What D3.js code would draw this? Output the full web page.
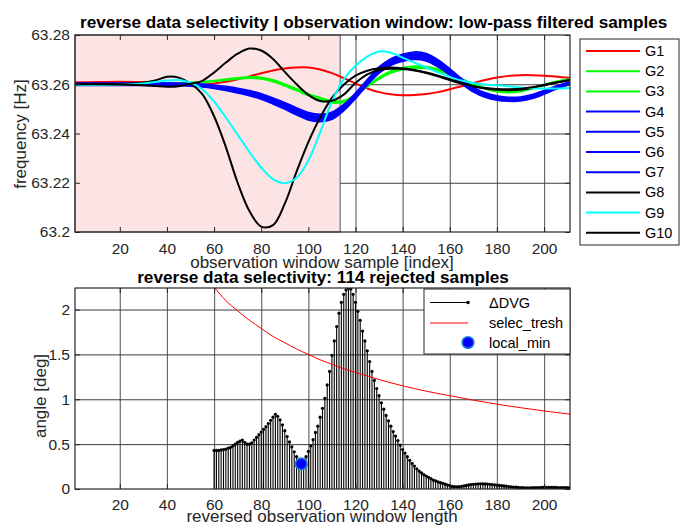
<!DOCTYPE html>
<html><head><meta charset="utf-8">
<script src="https://cdn.jsdelivr.net/npm/d3@7"></script>
<style>body{margin:0;background:#fff}svg{display:block}</style>
</head><body>
<svg id="chart" width="691" height="527"></svg>
<script>
// ---------------- data ----------------
const sampleIndex = [1,10,20,30,35,40,45,50,55,60,65,70,75,80,85,90,95,100,105,110,115,120,125,130,135,140,145,150,155,160,165,170,175,180,185,190,195,200,205,211];
const G1 = [63.2608,63.2609,63.2610,63.2609,63.2607,63.2603,63.2599,63.2597,63.2598,63.2603,63.2610,63.2620,63.2632,63.2645,63.2656,63.2664,63.2668,63.2668,63.2660,63.2645,63.2625,63.2603,63.2583,63.2568,63.2559,63.2555,63.2556,63.2560,63.2568,63.2580,63.2592,63.2605,63.2617,63.2627,63.2634,63.2637,63.2637,63.2635,63.2631,63.2626];
const G2 = [63.2600,63.2600,63.2600,63.2601,63.2602,63.2603,63.2604,63.2606,63.2608,63.2612,63.2617,63.2622,63.2625,63.2622,63.2611,63.2594,63.2575,63.2555,63.2538,63.2525,63.2528,63.2556,63.2592,63.2628,63.2653,63.2667,63.2673,63.2671,63.2661,63.2644,63.2622,63.2600,63.2582,63.2570,63.2566,63.2570,63.2582,63.2597,63.2610,63.2621];
const G3 = [63.2600,63.2600,63.2600,63.2601,63.2602,63.2603,63.2604,63.2606,63.2609,63.2614,63.2620,63.2625,63.2629,63.2627,63.2617,63.2600,63.2581,63.2561,63.2545,63.2532,63.2533,63.2558,63.2590,63.2622,63.2646,63.2660,63.2666,63.2665,63.2656,63.2640,63.2620,63.2600,63.2585,63.2575,63.2572,63.2575,63.2585,63.2598,63.2610,63.2620];
const G4 = [63.2597,63.2597,63.2597,63.2597,63.2597,63.2597,63.2597,63.2594,63.2591,63.2585,63.2577,63.2567,63.2556,63.2541,63.2522,63.2501,63.2478,63.2457,63.2450,63.2460,63.2495,63.2545,63.2600,63.2648,63.2679,63.2696,63.2703,63.2697,63.2673,63.2640,63.2604,63.2571,63.2549,63.2537,63.2533,63.2534,63.2544,63.2562,63.2582,63.2601];
const G5 = [63.2599,63.2599,63.2599,63.2599,63.2599,63.2599,63.2599,63.2597,63.2594,63.2588,63.2581,63.2572,63.2561,63.2547,63.2529,63.2508,63.2486,63.2466,63.2459,63.2468,63.2502,63.2550,63.2605,63.2655,63.2686,63.2704,63.2712,63.2706,63.2681,63.2647,63.2609,63.2576,63.2554,63.2542,63.2537,63.2538,63.2548,63.2565,63.2585,63.2604];
const G6 = [63.2601,63.2601,63.2601,63.2601,63.2601,63.2601,63.2601,63.2599,63.2596,63.2592,63.2585,63.2576,63.2567,63.2553,63.2535,63.2516,63.2494,63.2474,63.2467,63.2476,63.2508,63.2556,63.2611,63.2661,63.2694,63.2712,63.2720,63.2714,63.2689,63.2653,63.2615,63.2580,63.2558,63.2546,63.2541,63.2542,63.2552,63.2569,63.2587,63.2606];
const G7 = [63.2603,63.2603,63.2603,63.2603,63.2603,63.2603,63.2603,63.2602,63.2599,63.2595,63.2589,63.2581,63.2572,63.2559,63.2542,63.2523,63.2502,63.2483,63.2476,63.2484,63.2515,63.2561,63.2616,63.2668,63.2701,63.2720,63.2729,63.2723,63.2697,63.2660,63.2620,63.2585,63.2563,63.2551,63.2545,63.2546,63.2556,63.2572,63.2590,63.2609];
const G8 = [63.2600,63.2600,63.2601,63.2606,63.2615,63.2630,63.2627,63.2603,63.2560,63.2470,63.2345,63.2200,63.2085,63.2022,63.2028,63.2115,63.2245,63.2365,63.2465,63.2545,63.2598,63.2635,63.2655,63.2665,63.2668,63.2665,63.2658,63.2648,63.2635,63.2620,63.2605,63.2592,63.2583,63.2578,63.2576,63.2578,63.2585,63.2596,63.2606,63.2617];
const G9 = [63.2597,63.2597,63.2598,63.2603,63.2609,63.2615,63.2617,63.2607,63.2580,63.2530,63.2465,63.2395,63.2325,63.2262,63.2215,63.2198,63.2220,63.2290,63.2405,63.2530,63.2620,63.2675,63.2712,63.2733,63.2728,63.2708,63.2688,63.2668,63.2648,63.2630,63.2615,63.2605,63.2599,63.2596,63.2592,63.2587,63.2584,63.2583,63.2583,63.2585];
const G10 = [63.2600,63.2600,63.2599,63.2596,63.2593,63.2590,63.2592,63.2602,63.2614,63.2648,63.2688,63.2724,63.2745,63.2737,63.2703,63.2650,63.2600,63.2557,63.2532,63.2533,63.2558,63.2605,63.2640,63.2658,63.2663,63.2662,63.2656,63.2646,63.2632,63.2617,63.2603,63.2592,63.2585,63.2581,63.2580,63.2582,63.2588,63.2598,63.2607,63.2617];
const seriesNames = ["G1","G2","G3","G4","G5","G6","G7","G8","G9","G10"];
const seriesValues = [G1,G2,G3,G4,G5,G6,G7,G8,G9,G10];
const seriesColors = ["#ff0000","#00ff00","#00ff00","#0000ff","#0000ff","#0000ff","#0000ff","#000000","#00ffff","#000000"];
const freqTicks = [63.2,63.22,63.24,63.26,63.28];
const freqTickLabels = ["63.2","63.22","63.24","63.26","63.28"];
const sampleTicks = [20,40,60,80,100,120,140,160,180,200];
const rejectedSamples = 114;

const windowLength = d3.range(60, 212);
const deltaDVG = [
 0.43,0.43,0.43,0.435,0.44,0.445,0.455,0.465,0.48,0.50,
 0.52,0.535,0.545,0.52,0.50,0.50,0.515,0.545,0.575,0.605,
 0.635,0.665,0.695,0.73,0.765,0.80,0.833,0.81,0.77,0.715,
 0.65,0.585,0.525,0.47,0.415,0.36,0.31,0.28,0.31,0.36,
 0.42,0.48,0.55,0.63,0.70,0.80,0.90,1.01,1.16,1.31,
 1.49,1.65,1.81,1.96,2.08,2.17,2.22,2.24,2.23,2.17,
 2.08,1.98,1.88,1.76,1.65,1.54,1.42,1.31,1.21,1.12,
 1.04,0.96,0.89,0.82,0.76,0.70,0.64,0.59,0.54,0.49,
 0.44,0.40,0.36,0.32,0.285,0.255,0.225,0.20,0.18,0.16,
 0.145,0.13,0.115,0.10,0.09,0.08,0.07,0.062,0.055,0.045,
 0.037,0.03,0.026,0.025,0.026,0.03,0.035,0.04,0.045,0.05,
 0.053,0.055,0.057,0.058,0.058,0.057,0.055,0.053,0.05,0.047,
 0.044,0.04,0.037,0.034,0.031,0.028,0.025,0.022,0.02,0.018,
 0.016,0.015,0.014,0.014,0.014,0.015,0.015,0.016,0.016,0.017,
 0.017,0.018,0.018,0.018,0.017,0.017,0.016,0.016,0.015,0.015,
 0.015,0.015];
const treshLength = [60,65,70,75,80,85,90,95,100,105,110,115,120,125,130,140,150,160,170,180,190,200,211];
const selecTresh = [2.25,2.10,1.985,1.88,1.79,1.70,1.63,1.56,1.50,1.44,1.39,1.34,1.30,1.26,1.22,1.15,1.09,1.04,0.99,0.945,0.906,0.87,0.834];
const localMinLength = [97];
const localMinAngle = [0.28];
const angleTicks = [0,0.5,1,1.5,2];
const angleTickLabels = ["0","0.5","1","1.5","2"];
const lengthTicks = [20,40,60,80,100,120,140,160,180,200];

// ---------------- drawing ----------------
const svg = d3.select('#chart');
const FONT = "'Liberation Sans', Arial, Helvetica, sans-serif";
const INK = '#262626';
const GRID = '#6a6a6a';
svg.append('rect').attr('width',691).attr('height',527).attr('fill','#fff');

const T = {l:75, r:570, t:35, b:232};
const B = {l:75, r:570, t:288, b:489};
const xTop = d3.scaleLinear().domain([1,211]).range([T.l,T.r]);
const yTop = d3.scaleLinear().domain([63.2,63.28]).range([T.b,T.t]);
const xBot = d3.scaleLinear().domain([1,211]).range([B.l,B.r]);
const yBot = d3.scaleLinear().domain([0,2.24]).range([B.b,B.t]);

const defs = svg.append('defs');
defs.append('clipPath').attr('id','clipT').append('rect').attr('x',T.l).attr('y',T.t).attr('width',T.r-T.l).attr('height',T.b-T.t);
defs.append('clipPath').attr('id','clipB').append('rect').attr('x',B.l).attr('y',B.t).attr('width',B.r-B.l).attr('height',B.b-B.t);

function grid(box, x, y, xt, yt){
  const g = svg.append('g');
  g.append('g').attr('transform',`translate(0,${box.b})`)
    .call(d3.axisBottom(x).tickValues(xt).tickSize(-(box.b-box.t)).tickFormat(''))
    .call(a=>a.select('.domain').remove())
    .selectAll('line').attr('stroke',GRID).attr('stroke-width',1.2);
  g.append('g').attr('transform',`translate(${box.l},0)`)
    .call(d3.axisLeft(y).tickValues(yt).tickSize(-(box.r-box.l)).tickFormat(''))
    .call(a=>a.select('.domain').remove())
    .selectAll('line').attr('stroke','#3c3c3c').attr('stroke-width',1);
}
function frame(box, x, y, xt, yt, ylabels, xlabY){
  const g = svg.append('g');
  const tk = 5;
  [[d3.axisBottom(x), `translate(0,${box.b})`, xt],[d3.axisTop(x), `translate(0,${box.t})`, xt],
   [d3.axisLeft(y), `translate(${box.l},0)`, yt],[d3.axisRight(y), `translate(${box.r},0)`, yt]].forEach(([ax,tr,tv])=>{
    g.append('g').attr('transform',tr).call(ax.tickValues(tv).tickSize(-tk).tickFormat(''))
      .call(a=>a.select('.domain').remove())
      .selectAll('line').attr('stroke',INK);
  });
  g.append('rect').attr('x',box.l).attr('y',box.t).attr('width',box.r-box.l).attr('height',box.b-box.t)
    .attr('fill','none').attr('stroke',INK).attr('stroke-width',1.2);
  const gx = g.append('g').attr('transform',`translate(0,${box.b})`)
    .call(d3.axisBottom(x).tickValues(xt).tickSize(0).tickFormat(d3.format('d')));
  gx.select('.domain').remove();
  gx.attr('font-family',FONT).attr('font-size',15.5);
  gx.selectAll('text').attr('y',xlabY).attr('dy',null).attr('fill',INK);
  const gy = g.append('g').attr('transform',`translate(${box.l},0)`)
    .call(d3.axisLeft(y).tickValues(yt).tickSize(0).tickFormat((d,i)=>ylabels[i]));
  gy.select('.domain').remove();
  gy.attr('font-family',FONT).attr('font-size',15.5);
  gy.selectAll('text').attr('x',-5).attr('fill',INK);
}

// ---- top panel ----
grid(T, xTop, yTop, sampleTicks, freqTicks.slice(1,4));
svg.append('rect').attr('x',xTop(1)).attr('y',T.t).attr('width',xTop(rejectedSamples-0.5)-xTop(1)).attr('height',T.b-T.t)
  .attr('fill','#fce4e4').attr('stroke','#555').attr('stroke-width',1);
const lineTop = d3.line().x((d,i)=>xTop(sampleIndex[i])).y(d=>yTop(d)).curve(d3.curveCatmullRom.alpha(0.5));
const gCurves = svg.append('g').attr('clip-path','url(#clipT)');
seriesValues.forEach((vals,k)=>{
  gCurves.append('path').attr('d',lineTop(vals)).attr('fill','none')
    .attr('stroke',seriesColors[k]).attr('stroke-width',seriesColors[k]==='#0000ff'?2.7:2).attr('stroke-linejoin','round');
});
frame(T, xTop, yTop, sampleTicks, freqTicks, freqTickLabels, 21.5);

// top legend
const lgT = svg.append('g');
lgT.append('rect').attr('x',580).attr('y',39).attr('width',99).attr('height',206).attr('fill','#fff').attr('stroke',INK).attr('stroke-width',1);
seriesNames.forEach((n,k)=>{
  const yy = 51 + k*20.2;
  lgT.append('line').attr('x1',586).attr('x2',640).attr('y1',yy).attr('y2',yy).attr('stroke',seriesColors[k]).attr('stroke-width',2);
  lgT.append('text').attr('x',645).attr('y',yy).attr('dy','0.35em').attr('font-family',FONT).attr('font-size',14.5).attr('fill','#000').text(n);
});

// top texts
const t1 = svg.append('text').attr('x',80).attr('y',28).attr('font-family',FONT).attr('font-weight','bold').attr('font-size',15.5).attr('fill','#000')
  .text('reverse data selectivity | observation window: low-pass filtered samples');
svg.append('text').attr('x',322).attr('y',268).attr('text-anchor','middle').attr('font-family',FONT).attr('font-size',17).attr('fill',INK)
  .text('observation window sample [index]');
svg.append('text').attr('transform','translate(26,134) rotate(-90)').attr('text-anchor','middle').attr('font-family',FONT).attr('font-size',17).attr('fill',INK)
  .text('frequency [Hz]');

// ---- bottom panel ----
grid(B, xBot, yBot, lengthTicks, angleTicks.slice(1));
const gStem = svg.append('g').attr('clip-path','url(#clipB)');
gStem.selectAll('line.stem').data(deltaDVG).join('line').attr('class','stem')
  .attr('x1',(d,i)=>xBot(windowLength[i])).attr('x2',(d,i)=>xBot(windowLength[i]))
  .attr('y1',yBot(0)).attr('y2',d=>yBot(d)).attr('stroke','#000').attr('stroke-width',1.1);
gStem.selectAll('circle.dot').data(deltaDVG).join('circle').attr('class','dot')
  .attr('cx',(d,i)=>xBot(windowLength[i])).attr('cy',d=>yBot(d)).attr('r',1.6).attr('fill','#000');
const lineTr = d3.line().x((d,i)=>xBot(treshLength[i])).y(d=>yBot(d)).curve(d3.curveMonotoneX);
gStem.append('path').attr('d',lineTr(selecTresh)).attr('fill','none').attr('stroke','#ff0000').attr('stroke-width',1);
gStem.selectAll('circle.lmin').data(localMinAngle).join('circle').attr('class','lmin')
  .attr('cx',(d,i)=>xBot(localMinLength[i])).attr('cy',d=>yBot(d)).attr('r',5.8)
  .attr('fill','#0000ff').attr('stroke','#1a7fd6').attr('stroke-width',1.6);
frame(B, xBot, yBot, lengthTicks, angleTicks, angleTickLabels, 20.5);

// bottom legend
const lgB = svg.append('g');
lgB.append('rect').attr('x',424).attr('y',289).attr('width',146).attr('height',65).attr('fill','#fff').attr('stroke',INK).attr('stroke-width',1);
lgB.append('line').attr('x1',430).attr('x2',468).attr('y1',302.5).attr('y2',302.5).attr('stroke','#000').attr('stroke-width',1);
lgB.append('circle').attr('cx',468).attr('cy',302.5).attr('r',1.8).attr('fill','#000');
lgB.append('line').attr('x1',430).attr('x2',468).attr('y1',323).attr('y2',323).attr('stroke','#ff0000').attr('stroke-width',1);
lgB.append('circle').attr('cx',468).attr('cy',342.5).attr('r',5.8).attr('fill','#0000ff').attr('stroke','#1a7fd6').attr('stroke-width',1.6);
[['\u0394DVG',302.5],['selec_tresh',323],['local_min',342.5]].forEach(([s,yy])=>{
  lgB.append('text').attr('x',489).attr('y',yy).attr('dy','0.35em').attr('font-family',FONT).attr('font-size',14.5).attr('fill','#000').text(s);
});

// bottom texts
const t2 = svg.append('text').attr('x',323).attr('y',283).attr('text-anchor','middle').attr('font-family',FONT).attr('font-weight','bold').attr('font-size',15.5).attr('fill','#000')
  .text(`reverse data selectivity: ${rejectedSamples} rejected samples`);
svg.append('text').attr('x',322).attr('y',522).attr('text-anchor','middle').attr('font-family',FONT).attr('font-size',17).attr('fill',INK)
  .text('reversed observation window length');
svg.append('text').attr('transform','translate(46,396) rotate(-90)').attr('text-anchor','middle').attr('font-family',FONT).attr('font-size',17).attr('fill',INK)
  .text('angle [deg]');

function fit(sel, target){
  const w = sel.node().getComputedTextLength();
  if (w > 0) sel.attr('font-size', parseFloat(sel.attr('font-size')) * target / w);
}
fit(t1, 588);
fit(t2, 372);
</script>
</body></html>
